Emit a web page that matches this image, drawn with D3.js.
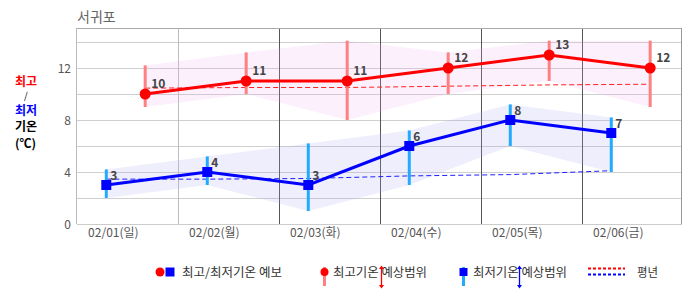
<!DOCTYPE html>
<html><head><meta charset="utf-8">
<script src="https://cdn.jsdelivr.net/npm/d3@7"></script>
<style>body{margin:0;background:#fff}svg{display:block}text{font-family:"Noto Sans CJK KR","Noto Sans",sans-serif}</style>
</head><body>
<svg id="c" width="686" height="295"></svg>
<script>
const categories = ["02/01(일)","02/02(월)","02/03(화)","02/04(수)","02/05(목)","02/06(금)"];
const highValues = [10,11,11,12,13,12];
const highRangeMin = [9,10,8,10,11,9];
const highRangeMax = [12.2,13.2,14.1,13.2,14.1,14.1];
const lowValues = [3,4,3,6,8,7];
const lowRangeMin = [2,3,1,3,6,4];
const lowRangeMax = [4.2,5.2,6.2,7.2,9.2,8.2];
const highNormal = [10.45,10.5,10.5,10.6,10.7,10.75];
const lowNormal = [3.45,3.45,3.5,3.7,3.8,4.1];
const yTicks = [0,4,8,12];
const yGrid = [2,4,6,8,10,12,14];

const svg = d3.select("#c");
const L=77,R=683,T=28,B=224;
const x = d3.scaleBand().domain(categories).range([L,R]).padding(0);
const y = d3.scaleLinear().domain([0,15]).range([B,B-195]);
const bw = x.bandwidth();
const xl = c => x(c)+bw*0.29;
const xh = c => x(c)+bw*0.675;
const xt = c => x(c)+bw*0.36;

// title
svg.append("text").attr("x",77).attr("y",22).attr("font-size",14).attr("fill","#666").text("서귀포");

// horizontal grid
svg.append("g").selectAll("line").data(yGrid).join("line")
  .attr("x1",L).attr("x2",R-1).attr("y1",d=>Math.round(y(d))+0.5).attr("y2",d=>Math.round(y(d))+0.5)
  .attr("stroke","#cfcfcf").attr("stroke-width",1);
// vertical dividers
svg.append("g").selectAll("line").data(categories.slice(1)).join("line")
  .attr("x1",d=>Math.round(x(d))+0.5).attr("x2",d=>Math.round(x(d))+0.5).attr("y1",T).attr("y2",B)
  .attr("stroke",(d,i)=>i===0?"#bdbdbd":"#555").attr("stroke-width",1);
// frame
svg.append("line").attr("x1",L).attr("x2",R-1).attr("y1",T+0.5).attr("y2",T+0.5).attr("stroke","#aaa");
svg.append("line").attr("x1",R-1.5).attr("x2",R-1.5).attr("y1",T).attr("y2",B).attr("stroke","#999");
svg.append("line").attr("x1",L-0.5).attr("x2",L-0.5).attr("y1",T).attr("y2",B).attr("stroke","#bbb");
svg.append("line").attr("x1",L).attr("x2",R-1).attr("y1",B+0.5).attr("y2",B+0.5).attr("stroke","#ccc");

// y tick labels
svg.append("g").selectAll("text").data(yTicks).join("text")
  .attr("x",71).attr("y",d=>y(d)+4.5).attr("text-anchor","end").attr("font-size",12).attr("fill","#555").text(d=>d);
// x labels
svg.append("g").selectAll("text").data(categories).join("text")
  .attr("x",d=>xt(d)).attr("y",237).attr("text-anchor","middle").attr("font-size",12).attr("fill","#555").text(d=>d);

// bands
const idx = d3.range(categories.length);
const hArea = d3.area().x(i=>xh(categories[i])).y0(i=>y(highRangeMin[i])).y1(i=>y(highRangeMax[i]));
const lArea = d3.area().x(i=>xl(categories[i])).y0(i=>y(lowRangeMin[i])).y1(i=>y(lowRangeMax[i]));
svg.append("path").attr("d",hArea(idx)).attr("fill","rgba(240,170,240,0.18)");
svg.append("path").attr("d",lArea(idx)).attr("fill","rgba(170,170,240,0.2)");

// normals
const hN = d3.line().x(i=>xh(categories[i])).y(i=>y(highNormal[i]));
const lN = d3.line().x(i=>xl(categories[i])).y(i=>y(lowNormal[i]));
svg.append("path").attr("d",hN(idx)).attr("fill","none").attr("stroke","#ff2020").attr("stroke-width",1).attr("stroke-dasharray","5,3");
svg.append("path").attr("d",lN(idx)).attr("fill","none").attr("stroke","#2020ff").attr("stroke-width",1).attr("stroke-dasharray","5,3");

// range bars
svg.append("g").selectAll("line").data(idx).join("line")
  .attr("x1",i=>xh(categories[i])).attr("x2",i=>xh(categories[i]))
  .attr("y1",i=>y(highRangeMax[i])).attr("y2",i=>y(highRangeMin[i]))
  .attr("stroke","#ff8080").attr("stroke-width",3);
svg.append("g").selectAll("line").data(idx).join("line")
  .attr("x1",i=>xl(categories[i])).attr("x2",i=>xl(categories[i]))
  .attr("y1",i=>y(lowRangeMax[i])).attr("y2",i=>y(lowRangeMin[i]))
  .attr("stroke","#22aaff").attr("stroke-width",3);

// lines
const hL = d3.line().x(i=>xh(categories[i])).y(i=>y(highValues[i]));
const lL = d3.line().x(i=>xl(categories[i])).y(i=>y(lowValues[i]));
svg.append("path").attr("d",hL(idx)).attr("fill","none").attr("stroke","#ff0000").attr("stroke-width",3);
svg.append("path").attr("d",lL(idx)).attr("fill","none").attr("stroke","#0000ff").attr("stroke-width",3);

// markers
svg.append("g").selectAll("circle").data(idx).join("circle")
  .attr("cx",i=>xh(categories[i])).attr("cy",i=>y(highValues[i])).attr("r",5.5).attr("fill","#ff0000");
svg.append("g").selectAll("rect").data(idx).join("rect")
  .attr("x",i=>xl(categories[i])-5).attr("y",i=>y(lowValues[i])-5).attr("width",10).attr("height",10).attr("fill","#0000ff");

// value labels
svg.append("g").selectAll("text").data(idx).join("text")
  .attr("x",i=>xh(categories[i])+6).attr("y",i=>y(highValues[i])-6)
  .attr("font-size",12).attr("font-weight","bold").attr("fill","#444").attr("font-family","Liberation Sans, Arial, sans-serif").text(i=>highValues[i]);
svg.append("g").selectAll("text").data(idx).join("text")
  .attr("x",i=>xl(categories[i])+4).attr("y",i=>y(lowValues[i])-5)
  .attr("font-size",12).attr("font-weight","bold").attr("fill","#444").attr("font-family","Liberation Sans, Arial, sans-serif").text(i=>lowValues[i]);

// y axis title
const yt = svg.append("g").attr("font-size",12).attr("font-weight","bold");
yt.append("text").attr("x",15).attr("y",86).attr("fill","#ff0000").text("최고");
yt.append("text").attr("x",24).attr("y",98.6).attr("fill","#000").attr("font-weight","normal")
  .attr("font-size",9.5).attr("font-family","DejaVu Sans, sans-serif").text("/");
yt.append("text").attr("x",15).attr("y",115).attr("fill","#0000ff").text("최저");
yt.append("text").attr("x",15).attr("y",131).attr("fill","#000").text("기온");
yt.append("text").attr("x",15).attr("y",148).attr("fill","#000").text("(℃)");

// legend
const lg = svg.append("g");
const ly = 272;
function ltext(x0,w,s){
  lg.append("text").attr("x",x0).attr("y",277).attr("font-size",12).attr("fill","#333")
    .attr("textLength",w).attr("lengthAdjust","spacingAndGlyphs").text(s);
}
lg.append("circle").attr("cx",160).attr("cy",ly).attr("r",4.5).attr("fill","#ff0000");
lg.append("rect").attr("x",165.5).attr("y",ly-4.5).attr("width",9).attr("height",9).attr("fill","#0000ff");
ltext(182,100,"최고/최저기온 예보");

lg.append("line").attr("x1",324.5).attr("x2",324.5).attr("y1",267).attr("y2",286).attr("stroke","#ff8080").attr("stroke-width",3);
lg.append("circle").attr("cx",324.5).attr("cy",ly).attr("r",4).attr("fill","#ff0000");
ltext(333,94,"최고기온 예상범위");
function arrow(cx,col){
  lg.append("line").attr("x1",cx).attr("x2",cx).attr("y1",267).attr("y2",287).attr("stroke",col).attr("stroke-width",1.3);
  lg.append("path").attr("d",`M${cx-2.5},${269}L${cx},${265.5}L${cx+2.5},${269}Z`).attr("fill",col);
  lg.append("path").attr("d",`M${cx-2.5},${285}L${cx},${288.5}L${cx+2.5},${285}Z`).attr("fill",col);
}
arrow(381.5,"#ff0000");

lg.append("line").attr("x1",463.5).attr("x2",463.5).attr("y1",267).attr("y2",286).attr("stroke","#22aaff").attr("stroke-width",3);
lg.append("rect").attr("x",459.5).attr("y",ly-4).attr("width",8).attr("height",8).attr("fill","#0000ff");
ltext(473,94,"최저기온 예상범위");
arrow(519.5,"#0000ff");

lg.append("line").attr("x1",588).attr("x2",625).attr("y1",268.5).attr("y2",268.5).attr("stroke","#ff0000").attr("stroke-width",2).attr("stroke-dasharray","3,2");
lg.append("line").attr("x1",588).attr("x2",625).attr("y1",274.5).attr("y2",274.5).attr("stroke","#0000ff").attr("stroke-width",2).attr("stroke-dasharray","3,2");
ltext(637,21,"평년");
</script>
</body></html>
